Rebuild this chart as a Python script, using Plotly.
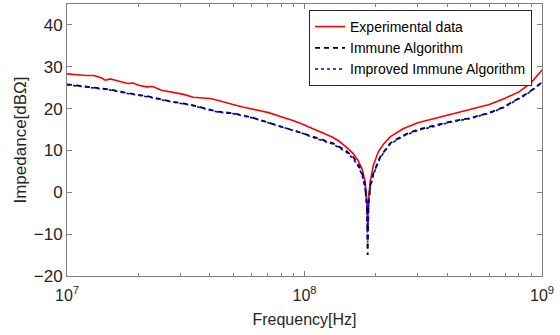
import plotly.graph_objects as go

# Frequencies in MHz and impedance values in dBΩ
freq_exp = [10, 11, 12, 13, 14, 14.5, 15.2, 16, 17, 18, 19, 20, 21.7, 23, 25, 27, 29, 31, 34, 37,
            40, 43, 46, 50, 55, 60, 65, 70, 75, 80, 88, 96, 105, 115, 125, 132, 140, 150, 160, 168,
            175, 180, 183, 184.5, 186, 189, 195, 205, 215, 230, 260, 300, 360, 420, 500, 600, 700,
            800, 900, 1000]
z_exp = [28.3, 28.0, 27.9, 27.9, 27.3, 26.8, 27.1, 26.8, 26.4, 26.0, 26.1, 25.6, 25.2, 25.3, 24.4,
         24.0, 23.6, 23.4, 22.7, 22.6, 22.4, 22.0, 21.5, 21.0, 20.4, 20.0, 19.5, 19.1, 18.6, 18.1,
         17.3, 16.5, 15.6, 14.6, 13.7, 13.1, 12.2, 10.8, 9.3, 7.6, 5.5, 2.5, -2.0, -8.0, -2.0, 2.5,
         6.5, 9.8, 11.5, 13.3, 15.2, 16.6, 17.8, 18.8, 19.8, 21.0, 22.5, 24.0, 26.2, 29.2]

freq_alg = [10, 12, 15, 18, 22, 27, 34, 43, 50, 60, 70, 80, 96, 110, 132, 150, 160, 170, 176, 180,
            183, 184.5, 186, 189, 195, 208, 229, 260, 300, 361, 420, 495, 600, 685, 800, 866, 1000]
z_ia = [25.8, 25.3, 24.6, 23.7, 22.9, 21.8, 20.8, 19.3, 18.9, 17.9, 16.7, 15.8, 14.4, 13.2, 11.7,
        9.9, 8.5, 6.2, 4.0, 1.5, -3.0, -15.0, -3.0, 1.5, 4.5, 8.4, 11.7, 13.6, 15.0, 16.0, 17.0,
        17.7, 19.0, 20.3, 22.5, 23.6, 26.3]
z_iia = [25.7, 25.2, 24.5, 23.6, 22.8, 21.7, 20.7, 19.2, 18.8, 17.8, 16.6, 15.7, 14.3, 13.0, 11.5,
         9.6, 8.1, 5.8, 3.5, 1.0, -3.5, -12.0, -3.5, 1.0, 4.2, 8.2, 11.5, 13.4, 14.8, 15.9, 16.9,
         17.6, 18.9, 20.2, 22.4, 23.5, 26.2]

names = ["Experimental data", "Immune Algorithm", "Improved Immune Algorithm"]
x_tick_vals = [1e7, 1e8, 1e9]
x_tick_text = ["10<sup>7</sup>", "10<sup>8</sup>", "10<sup>9</sup>"]
y_tick_vals = [-20, -10, 0, 10, 20, 30, 40]

def hz(lst):
    return [v * 1e6 for v in lst]

fig = go.Figure()
fig.add_trace(go.Scatter(x=hz(freq_exp), y=z_exp, mode="lines", name=names[0],
                         line=dict(color="#ff0000", width=1.6)))
fig.add_trace(go.Scatter(x=hz(freq_alg), y=z_ia, mode="lines", name=names[1],
                         line=dict(color="#000000", width=1.8, dash="5px,4px")))
fig.add_trace(go.Scatter(x=hz(freq_alg), y=z_iia, mode="lines", name=names[2],
                         line=dict(color="#0000ff", width=1.6, dash="dot")))

minor_vals = [m * 10 ** e for e in (7, 8) for m in range(2, 10)]
axis_col = "#808080"
fig.update_layout(
    width=560, height=335,
    margin=dict(l=67, r=18, t=4, b=59),
    paper_bgcolor="white", plot_bgcolor="white",
    font=dict(family="Liberation Sans, Arial, sans-serif", size=15, color="#262626"),
    showlegend=True,
    legend=dict(x=0.979, y=0.978, xanchor="right", yanchor="top",
                bgcolor="white", bordercolor="#262626", borderwidth=1,
                font=dict(size=14, color="#000000"), tracegroupgap=0,
                itemwidth=30),
)
fig.update_xaxes(
    type="log", range=[7, 9], tickvals=x_tick_vals, ticktext=x_tick_text,
    ticks="inside", ticklen=5, tickcolor=axis_col, showline=True, linecolor=axis_col,
    linewidth=1, mirror="ticks", showgrid=False, zeroline=False,
    minor=dict(tickvals=minor_vals, ticks="inside", ticklen=3, tickcolor=axis_col),
    title=dict(text="Frequency[Hz]", font=dict(size=16), standoff=10),
    tickfont=dict(size=16), ticklabelstandoff=5,
)
fig.update_yaxes(
    range=[-20, 45], tickvals=y_tick_vals,
    ticks="inside", ticklen=5, tickcolor=axis_col, showline=True, linecolor=axis_col,
    linewidth=1, mirror="ticks", showgrid=False, zeroline=False,
    title=dict(text="Impedance[dBΩ]", font=dict(size=17), standoff=2),
    tickfont=dict(size=17),
)
fig.write_html("out.html")
